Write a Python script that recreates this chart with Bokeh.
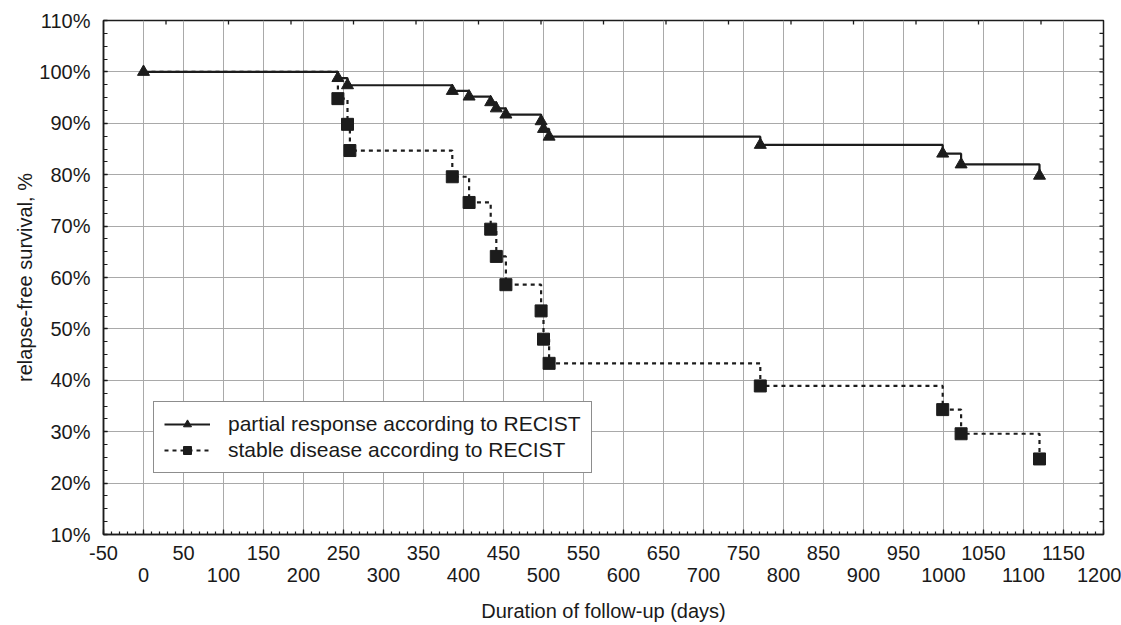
import math
from bokeh.plotting import figure
from bokeh.models import (Range1d, LinearAxis, FixedTicker, PrintfTickFormatter,
                          Legend, LegendItem, ColumnDataSource, Grid)
from bokeh.embed import file_html
from bokeh.resources import INLINE

# ---- data ----
pr_days = [0, 243, 255, 386, 407, 434, 441, 453, 497, 500, 507, 771, 999, 1022, 1120]
pr_surv = [100, 98.8, 97.4, 96.3, 95.2, 94.1, 92.9, 91.7, 90.4, 88.9, 87.4, 85.8, 84.1, 82.0, 79.8]

sd_days = [0, 243, 255, 258, 386, 407, 434, 441, 453, 497, 500, 507, 771, 999, 1022, 1120]
sd_surv = [100, 94.8, 89.8, 84.7, 79.6, 74.6, 69.4, 64.1, 58.6, 53.5, 48.0, 43.3, 38.9, 34.3, 29.6, 24.7]

x_ticks_upper = [-50, 50, 150, 250, 350, 450, 550, 650, 750, 850, 950, 1050, 1150]
x_ticks_lower = [0, 100, 200, 300, 400, 500, 600, 700, 800, 900, 1000, 1100, 1200]
y_ticks = [10, 20, 30, 40, 50, 60, 70, 80, 90, 100, 110]

label_pr = "partial response according to RECIST"
label_sd = "stable disease according to RECIST"
x_title = "Duration of follow-up (days)"
y_title = "relapse-free survival, %"

X0, X1, Y0, Y1 = -50, 1200, 10, 110

FONT = "Liberation Sans"
TXT = "#1a1a1a"
INK = "#1c1c1c"
GRID = "#a9a9a9"

p = figure(width=1121, height=625, output_backend="svg", toolbar_location=None,
           x_range=Range1d(X0, X1), y_range=Range1d(Y0, Y1),
           x_axis_type=None, y_axis_type=None,
           min_border_left=103, min_border_right=18, min_border_top=20, min_border_bottom=91)
p.outline_line_color = INK
p.outline_line_width = 1.5
p.background_fill_color = "white"
p.border_fill_color = "white"

all_50 = sorted(x_ticks_upper + x_ticks_lower)
minor_10 = list(range(X0, X1 + 1, 10))
y_minor = [v / 10 for v in range(Y0 * 10, Y1 * 10 + 1, 25)]

# bottom axis 1: ticks + upper row of labels
ax1 = LinearAxis(ticker=FixedTicker(ticks=all_50, minor_ticks=minor_10))
ov = {v: "" for v in x_ticks_lower}
ov.update({v: str(v) for v in x_ticks_upper})
ax1.major_label_overrides = ov
ax1.major_tick_in = 5
ax1.major_tick_out = 0
ax1.minor_tick_in = 3
ax1.minor_tick_out = 0
ax1.major_label_standoff = 11
# bottom axis 2: lower row of labels + title
ax2 = LinearAxis(ticker=FixedTicker(ticks=x_ticks_lower, minor_ticks=[]))
ax2.major_tick_in = 0
ax2.major_tick_out = 0
ax2.major_label_standoff = 5
ax2.axis_label = x_title
ax2.axis_label_standoff = 15

# left axis
ay = LinearAxis(ticker=FixedTicker(ticks=y_ticks, minor_ticks=y_minor),
                formatter=PrintfTickFormatter(format="%d%%"))
ay.major_tick_in = 4
ay.major_tick_out = 0
ay.minor_tick_in = 4
ay.minor_tick_out = 0
ay.major_label_standoff = 13
ay.axis_label = y_title
ay.axis_label_standoff = 0

for a in (ax1, ax2, ay):
    on = a is not ax2
    a.axis_line_color = INK if on else None
    a.axis_line_width = 1.5
    a.major_tick_line_color = INK if on else None
    a.minor_tick_line_color = INK if on else None
    a.major_tick_line_width = 1.3
    a.minor_tick_line_width = 1.2
    a.major_label_text_font = FONT
    a.major_label_text_font_size = "20px"
    a.major_label_text_color = TXT
    a.axis_label_text_font = FONT
    a.axis_label_text_font_size = "20px"
    a.axis_label_text_font_style = "normal"
    a.axis_label_text_color = TXT

p.add_layout(ax1, "below")
p.add_layout(ax2, "below")
p.add_layout(ay, "left")

# grid
gx = Grid(dimension=0, ticker=FixedTicker(ticks=list(range(0, 1151, 50))),
          grid_line_color=GRID, grid_line_width=1)
gy = Grid(dimension=1, ticker=FixedTicker(ticks=y_ticks[1:-1]),
          grid_line_color=GRID, grid_line_width=1)
p.add_layout(gx)
p.add_layout(gy)

# right-edge ticks (every 2.5 %) and top-edge ticks (16 equal divisions)
r_ticks = y_minor
p.ray(x=[X1] * len(r_ticks), y=r_ticks, length=4, angle=math.pi,
      length_units="screen", line_color=INK, line_width=1.2)
top_ticks = [X0 + k * (X1 - X0) / 16 for k in range(1, 16)]
p.ray(x=top_ticks, y=[Y1] * len(top_ticks), length=4, angle=-math.pi / 2,
      length_units="screen", line_color=INK, line_width=1.3)

# stable disease (dotted step)
sd_src = ColumnDataSource(dict(x=sd_days, y=sd_surv))
sd_mk = ColumnDataSource(dict(x=sd_days[1:], y=sd_surv[1:]))
sd_line = p.step("x", "y", source=sd_src, mode="after", line_color=INK,
                 line_width=2.2, line_dash="4 4")
sd_pts = p.scatter("x", "y", source=sd_mk, marker="square", size=12,
                   fill_color=INK, line_color=INK)

# partial response (solid step)
pr_src = ColumnDataSource(dict(x=pr_days, y=pr_surv))
pr_line = p.step("x", "y", source=pr_src, mode="after", line_color=INK, line_width=2.2)
pr_pts = p.scatter("x", "y", source=pr_src, marker="triangle", size=12,
                   fill_color=INK, line_color=INK)

legend = Legend(items=[LegendItem(label=label_pr, renderers=[pr_line, pr_pts]),
                       LegendItem(label=label_sd, renderers=[sd_line, sd_pts])],
                location=(50, 61))
legend.label_text_font = FONT
legend.label_text_font_size = "21px"
legend.label_text_color = TXT
legend.border_line_color = INK
legend.border_line_width = 1
legend.padding = 10
legend.spacing = 2
legend.glyph_width = 46
legend.glyph_height = 20
legend.label_height = 20
legend.label_standoff = 18
legend.margin = 0
legend.background_fill_alpha = 1
p.add_layout(legend, "center")

open("out.html", "w").write(file_html(p, INLINE))
